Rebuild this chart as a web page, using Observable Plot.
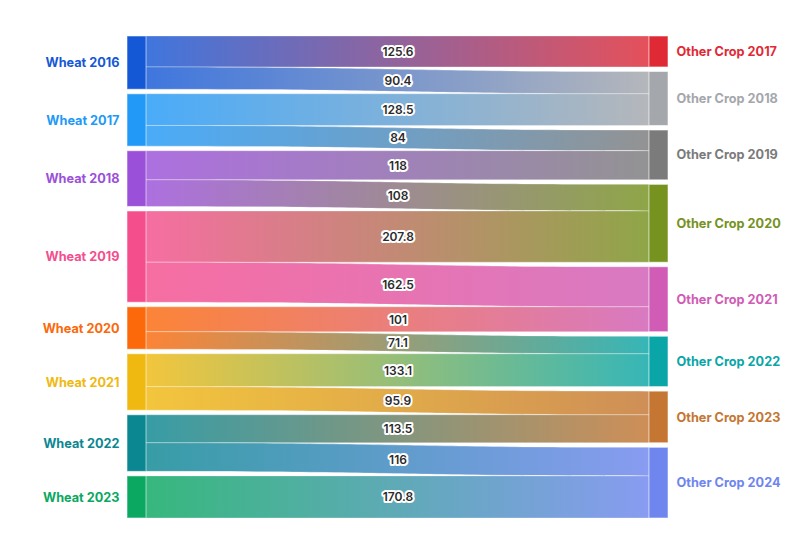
<!DOCTYPE html>
<html>
<head>
<meta charset="utf-8">
<script src="https://cdn.jsdelivr.net/npm/d3@7"></script>
<script src="https://cdn.jsdelivr.net/npm/@observablehq/plot@0.6"></script>
<style>
  html, body { margin: 0; padding: 0; background: #fff; }
  svg { display: block; }
</style>
</head>
<body>
<div id="chart"></div>
<script>
// ---- data ----
const sourceNodes = ["Wheat 2016", "Wheat 2017", "Wheat 2018", "Wheat 2019", "Wheat 2020", "Wheat 2021", "Wheat 2022", "Wheat 2023"];
const targetNodes = ["Other Crop 2017", "Other Crop 2018", "Other Crop 2019", "Other Crop 2020", "Other Crop 2021", "Other Crop 2022", "Other Crop 2023", "Other Crop 2024"];
const linkSource = ["Wheat 2016", "Wheat 2016", "Wheat 2017", "Wheat 2017", "Wheat 2018", "Wheat 2018", "Wheat 2019", "Wheat 2019", "Wheat 2020", "Wheat 2020", "Wheat 2021", "Wheat 2021", "Wheat 2022", "Wheat 2022", "Wheat 2023"];
const linkTarget = ["Other Crop 2017", "Other Crop 2018", "Other Crop 2018", "Other Crop 2019", "Other Crop 2019", "Other Crop 2020", "Other Crop 2020", "Other Crop 2021", "Other Crop 2021", "Other Crop 2022", "Other Crop 2022", "Other Crop 2023", "Other Crop 2023", "Other Crop 2024", "Other Crop 2024"];
const linkValue = [125.6, 90.4, 128.5, 84, 118, 108, 207.8, 162.5, 101, 71.1, 133.1, 95.9, 113.5, 116, 170.8];

// ---- styles ----
const palette = {
  "Wheat 2016": "#1558d6", "Wheat 2017": "#2299f7", "Wheat 2018": "#9b50d9", "Wheat 2019": "#f44e8d",
  "Wheat 2020": "#fb690b", "Wheat 2021": "#f0b912", "Wheat 2022": "#0b8792", "Wheat 2023": "#0aa860",
  "Other Crop 2017": "#df2a36", "Other Crop 2018": "#a4a7ac", "Other Crop 2019": "#7b7b7b", "Other Crop 2020": "#76921f",
  "Other Crop 2021": "#d05cb5", "Other Crop 2022": "#0aa6a7", "Other Crop 2023": "#c47632", "Other Crop 2024": "#6e86ee"
};
const FONT = "Inter, 'Noto Sans', sans-serif";
const gapV = 18.5;          // node padding in value units
const nodeW = 19 / 541;     // node width as a fraction of x span

// ---- layout (value units) ----
const links = linkValue.map((v, i) => ({source: linkSource[i], target: linkTarget[i], value: v, i}));
function layoutColumn(names, key) {
  let y = 0;
  return names.map(name => {
    const mine = links.filter(l => l[key] === name);
    const total = d3.sum(mine, l => l.value);
    const node = {name, y0: y, y1: y + total};
    let off = y;
    for (const l of mine) { l[key + "Y0"] = off; off += l.value; l[key + "Y1"] = off; }
    y += total + gapV;
    return node;
  });
}
const leftNodes = layoutColumn(sourceNodes, "source");
const rightNodes = layoutColumn(targetNodes, "target");
const H = d3.max([...leftNodes, ...rightNodes], n => n.y1);
leftNodes.forEach(n => { n.x0 = 0; n.x1 = nodeW; });
rightNodes.forEach(n => { n.x0 = 1 - nodeW; n.x1 = 1; });

const linkMarks = links.map(l => Plot.area(
  [{x: nodeW, y1: l.sourceY0, y2: l.sourceY1}, {x: 1 - nodeW, y1: l.targetY0, y2: l.targetY1}],
  {x1: "x", y1: "y1", y2: "y2", curve: "bump-x", fill: `url(#lg${l.i})`, fillOpacity: 0.82,
   stroke: "white", strokeOpacity: 0.3, strokeWidth: 1}
));

const plot = Plot.plot({
  width: 794,
  height: 536,
  x: {domain: [0, 1], range: [127, 668], axis: null},
  y: {domain: [0, H], range: [36, 518], axis: null},
  marks: [
    ...linkMarks,
    Plot.rect([...leftNodes, ...rightNodes], {
      x1: "x0", x2: "x1", y1: "y0", y2: "y1",
      fill: d => palette[d.name], stroke: "white", strokeOpacity: 0.55, strokeWidth: 1
    }),
    Plot.text(leftNodes, {
      x: 0, y: d => (d.y0 + d.y1) / 2, text: "name", textAnchor: "end", dx: -8,
      fill: d => palette[d.name], fontSize: 12.7, fontWeight: 650, fontFamily: FONT
    }),
    Plot.text(rightNodes, {
      x: 1, y: d => (d.y0 + d.y1) / 2, text: "name", textAnchor: "start", dx: 8,
      fill: d => palette[d.name], fontSize: 12.7, fontWeight: 650, fontFamily: FONT
    }),
    Plot.text(links, {
      x: 0.5, y: d => (d.sourceY0 + d.sourceY1 + d.targetY0 + d.targetY1) / 4,
      text: d => String(d.value), fill: "#2b2b2b", stroke: "white", strokeWidth: 4,
      fontSize: 12, fontWeight: 600, fontFamily: FONT
    })
  ]
});

const svg = d3.select(plot);
const defs = svg.insert("defs", ":first-child");
links.forEach(l => {
  const g = defs.append("linearGradient").attr("id", `lg${l.i}`)
    .attr("x1", "0%").attr("x2", "100%").attr("y1", "0%").attr("y2", "0%");
  g.append("stop").attr("offset", "0%").attr("stop-color", palette[l.source]);
  g.append("stop").attr("offset", "100%").attr("stop-color", palette[l.target]);
});
document.getElementById("chart").appendChild(plot);
</script>
</body>
</html>
